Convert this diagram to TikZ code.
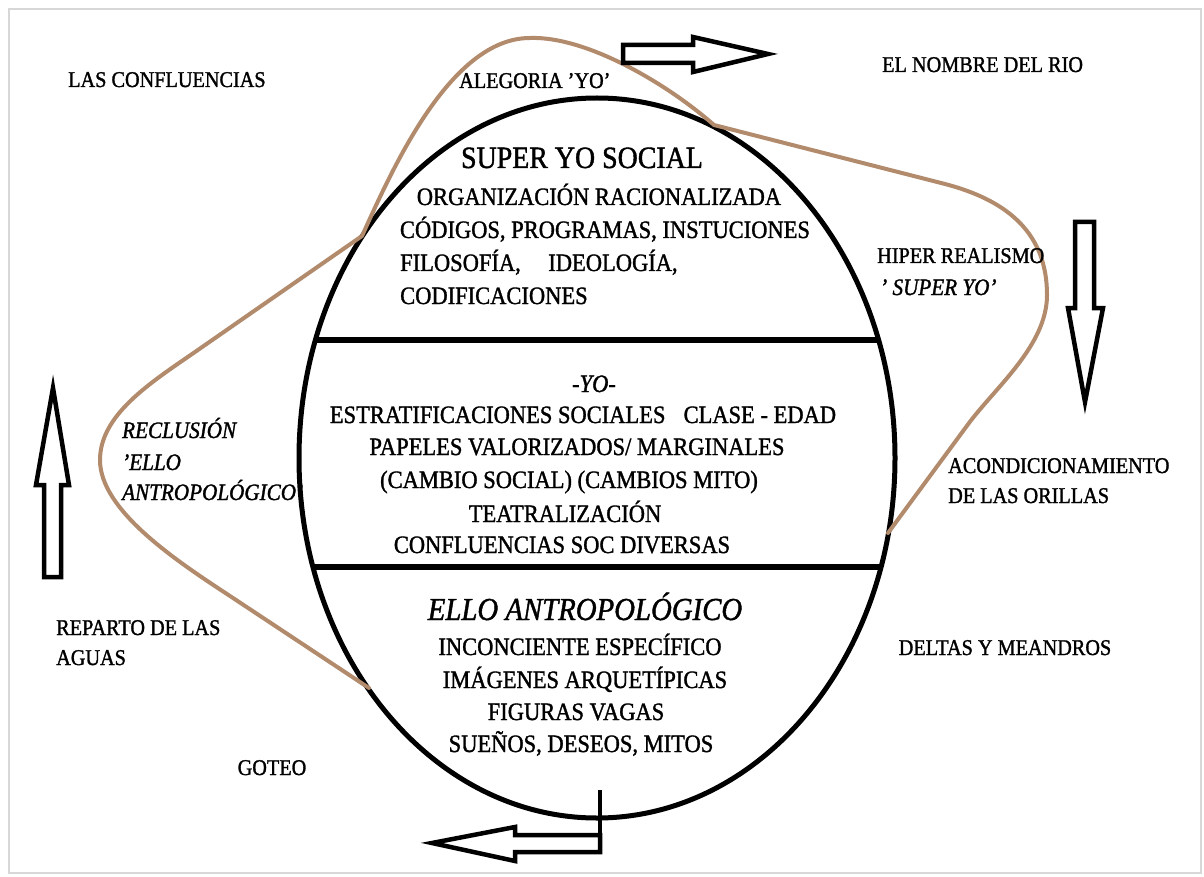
\documentclass[tikz,border=0pt]{standalone}
\usepackage{fontspec}
\setmainfont{Liberation Serif}[FakeStretch=0.9, FakeBold=1.3]
\definecolor{riverbrown}{RGB}{178,138,108}
\definecolor{framegray}{RGB}{215,215,215}
\begin{document}
\begin{tikzpicture}[x=1pt,y=-1pt,
  inner/.style={inner sep=0pt, anchor=base, font=\fontsize{25}{30}\selectfont},
  innerleft/.style={inner sep=0pt, anchor=base west, font=\fontsize{25}{30}\selectfont},
  outer/.style={inner sep=0pt, anchor=base west, font=\fontsize{22.5}{27}\selectfont},
  outerc/.style={inner sep=0pt, anchor=base, font=\fontsize{22.5}{27}\selectfont},
  outerit/.style={inner sep=0pt, anchor=base west, font=\fontsize{23.5}{28}\selectfont\itshape},
  title/.style={inner sep=0pt, anchor=base, font=\fontsize{31}{37}\selectfont},
  blockarrow/.style={draw=black, fill=white, line width=4.5pt, line join=miter},
  divider/.style={line width=6pt},
  river/.style={draw=riverbrown, line width=4pt, line cap=round, line join=round}
]
\useasboundingbox (0,0) rectangle (1204,877);
\fill[white] (0,0) rectangle (1204,877);
\draw[framegray, line width=2pt] (9,9) rectangle (1201,873);

% egg / ellipse with dividers
\begin{scope}
  \clip (597,458) ellipse [x radius=298pt, y radius=360pt];
  \draw[divider] (290,340) -- (900,340);
  \draw[divider] (290,567) -- (900,567);
\end{scope}
\draw[line width=5pt] (597,458) ellipse [x radius=298pt, y radius=360pt];
\node[inner sep=0pt, minimum width=596pt, minimum height=720pt] (egg) at (597,458) {};

% brown river curve
\coordinate (rA) at (369,688);
\coordinate (rB) at (230,596);
\coordinate (rC) at (100,460);
\coordinate (rD) at (195,352);
\coordinate (rE) at (362,236);
\coordinate (rF) at (530,38);
\coordinate (rG) at (714,125);
\coordinate (rH) at (945,184);
\coordinate (rI) at (1047,295);
\coordinate (rJ) at (969,423);
\coordinate (rK) at (888,533);
\draw[river] (rA) -- (rB)
  .. controls (175,560) and (100,510) .. (rC)
  .. controls (100,415) and (150,383) .. (rD)
  -- (rE)
  .. controls (392,170) and (450,38) .. (rF)
  .. controls (585,36) and (665,82) .. (rG)
  -- (rH)
  .. controls (1010,201) and (1047,235) .. (rI)
  .. controls (1047,345) and (996,387) .. (rJ)
  -- (rK);

% block arrows
\draw[blockarrow] (623,45) -- (693,45) -- (693,37) -- (768,54) -- (693,72) -- (693,63) -- (623,63) -- cycle;
\draw[blockarrow] (1075,222) -- (1094,222) -- (1094,308) -- (1103,308) -- (1085,402) -- (1068,308) -- (1075,308) -- cycle;
\draw[blockarrow] (44,577) -- (44,485) -- (36,485) -- (53,388) -- (69,485) -- (61,485) -- (61,577) -- cycle;
\draw[blockarrow] (600,835) -- (515,835) -- (515,827) -- (432,843) -- (515,861) -- (515,852) -- (600,852) -- cycle;
\coordinate (dropTop) at (600,790);
\coordinate (dropBot) at (600,854);
\draw[line width=4.5pt] (dropTop) -- (dropBot);

% outer labels
\node[outer] (conf) at (68,87) {LAS CONFLUENCIAS};
\node[outer] (aleg) at (459,88) {ALEGORIA 'YO'};
\node[outer] (nombre) at (882,72) {EL NOMBRE DEL RIO};
\node[outer] (hiper) at (877,263) {HIPER REALISMO};
\node[outerit] (superyo) at (880,295) {' SUPER YO'};
\node[outerit] (recl1) at (122,438) {RECLUSIÓN};
\node[outerit] (recl2) at (122,470) {'ELLO};
\node[outerit] (recl3) at (122,500) {ANTROPOLÓGICO'};
\node[outer] (acon1) at (948,473) {ACONDICIONAMIENTO};
\node[outer] (acon2) at (948,503) {DE LAS ORILLAS};
\node[outer] (rep1) at (56,635) {REPARTO DE LAS};
\node[outer] (rep2) at (56,665) {AGUAS};
\node[outerc] (deltas) at (1005,655) {DELTAS Y MEANDROS};
\node[outerc] (goteo) at (272,775) {GOTEO};

% top section
\node[title] (sys) at (582,168) {SUPER YO SOCIAL};
\node[inner] (org) at (599,205) {ORGANIZACIÓN RACIONALIZADA};
\node[inner] (cod) at (605,238) {CÓDIGOS, PROGRAMAS, INSTUCIONES};
\node[innerleft] (fil) at (400,271) {FILOSOFÍA,\hspace{1.1em}IDEOLOGÍA,};
\node[innerleft] (codif) at (400,304) {CODIFICACIONES};

% middle section
\node[inner, font=\fontsize{25}{30}\selectfont\itshape] (yo) at (594,392) {-YO-};
\node[inner] (estr) at (583,423) {ESTRATIFICACIONES SOCIALES\hspace{0.5em} CLASE - EDAD};
\node[inner] (pap) at (577,455) {PAPELES VALORIZADOS/ MARGINALES};
\node[inner] (camb) at (569,488) {(CAMBIO SOCIAL) (CAMBIOS MITO)};
\node[inner] (teat) at (565,522) {TEATRALIZACIÓN};
\node[inner] (confs) at (562,553) {CONFLUENCIAS SOC DIVERSAS};

% bottom section
\node[title, font=\fontsize{32}{38}\selectfont\itshape] (ello) at (585,620) {ELLO ANTROPOLÓGICO};
\node[inner] (inc) at (580,655) {INCONCIENTE ESPECÍFICO};
\node[inner] (img) at (585,688) {IMÁGENES ARQUETÍPICAS};
\node[inner] (fig) at (576,720) {FIGURAS VAGAS};
\node[inner] (sue) at (581,752) {SUEÑOS, DESEOS, MITOS};
\end{tikzpicture}
\end{document}
